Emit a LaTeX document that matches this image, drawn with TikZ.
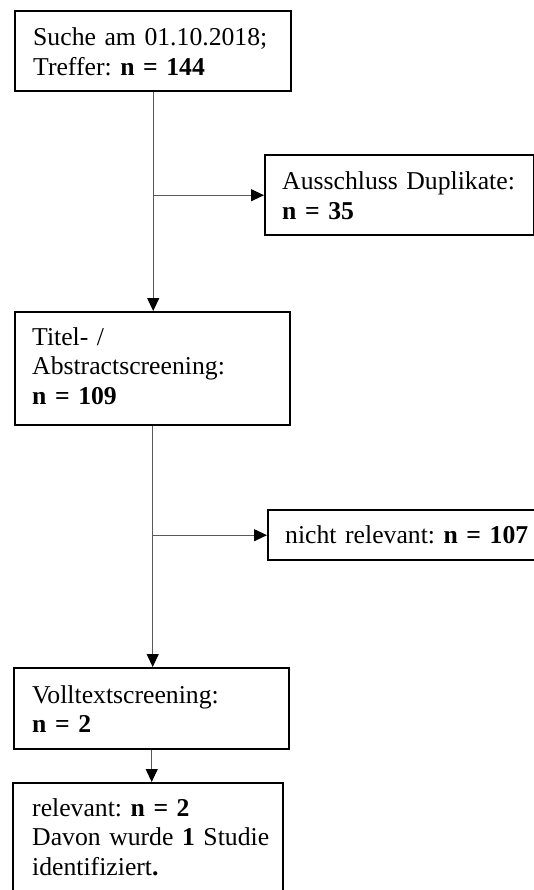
\documentclass[tikz,border=0pt]{standalone}
\usepackage{fontspec}
\setmainfont{Liberation Serif}
\usetikzlibrary{arrows.meta}
\frenchspacing
\begin{document}
\begin{tikzpicture}[x=1pt,y=-1pt,
  box/.style={draw=black, line width=2.4pt, inner sep=0pt, anchor=north west},
  txt/.style={anchor=base west, inner sep=0pt, align=left, text width=250pt,
    font=\fontsize{25.7}{29.6}\selectfont\frenchspacing},
  link/.style={draw=black!65, line width=1.1pt},
  arr/.style={link, -{Triangle[length=13pt,width=12pt,black]}}]
  \clip (0,0) rectangle (534,890);

  % frames of the flow steps
  \node[box, minimum width=276pt, minimum height=80pt]  (b1) at (14,10)  {};
  \node[box, minimum width=269pt, minimum height=80pt]  (b2) at (264,154) {};
  \node[box, minimum width=275pt, minimum height=113pt] (b3) at (14,311) {};
  \node[box, minimum width=280pt, minimum height=50pt]  (b4) at (267,509) {};
  \node[box, minimum width=275pt, minimum height=81pt]  (b5) at (13,667) {};
  \node[box, minimum width=270pt, minimum height=120pt] (b6) at (12,782) {};

  % texts, placed by the baseline of their first line
  \node[txt] (t1) at (33,46)  {Suche am 01.10.2018;\\Treffer: \textbf{n = 144}};
  \node[txt] (t2) at (282,190) {Ausschluss Duplikate:\\\textbf{n = 35}};
  \node[txt] (t3) at (32,345) {Titel- /\\Abstractscreening:\\\textbf{n = 109}};
  \node[txt] (t4) at (285,543) {nicht relevant: \textbf{n = 107}};
  \node[txt] (t5) at (32,703) {Volltextscreening:\\\textbf{n = 2}};
  \node[txt] (t6) at (32,816) {relevant: \textbf{n = 2}\\Davon wurde \textbf{1} Studie\\identifiziert\textbf{.}};

  % connectors
  \coordinate (j1) at (b1.south |- b2.west);
  \coordinate (j2) at (b3.south |- b4.west);
  \draw[arr] (b1.south) -- (b1.south |- b3.north);
  \draw[arr] (j1) -- (b2.west);
  \draw[arr] (b3.south) -- (b3.south |- b5.north);
  \draw[arr] (j2) -- (b4.west);
  \draw[arr] (b5.south) -- (b5.south |- b6.north);
\end{tikzpicture}
\end{document}
